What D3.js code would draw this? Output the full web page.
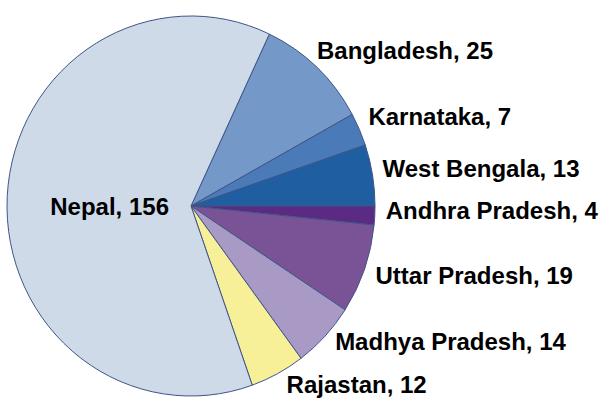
<!DOCTYPE html>
<html>
<head>
<meta charset="utf-8">
<script src="https://cdn.jsdelivr.net/npm/d3@7"></script>
<style>
  html, body { margin: 0; padding: 0; background: #fff; }
  svg { display: block; }
  text { font-family: "Liberation Sans", Arial, sans-serif; font-weight: bold; fill: #000; }
</style>
</head>
<body>
<svg id="chart" width="611" height="408"></svg>
<script>
// ---- data ----
const categories = ["Bangladesh", "Karnataka", "West Bengala", "Andhra Pradesh",
                    "Uttar Pradesh", "Madhya Pradesh", "Rajastan", "Nepal"];
const values = [25, 7, 13, 4, 19, 14, 12, 156];
const colors = ["#7499c8", "#4a7bb8", "#1f5ea0", "#5b2a82",
                "#7a5397", "#a89ac4", "#f7f098", "#cfdae8"];

// ---- layout ----
const W = 611, H = 408;
const cx = 191, cy = 206, rx = 184, ry = 190;
const startDeg = 25.2;
// label anchor nudges relative to the slice's outer edge point (layout only)
const labelNudge = [[0, -8], [9, -4], [10, 2], [11, 3], [11, 15], [10, 14], [9, 19]];

const svg = d3.select("#chart");
const pie = d3.pie().sort(null).value(d => d)
  .startAngle(startDeg * Math.PI / 180)
  .endAngle(startDeg * Math.PI / 180 + 2 * Math.PI);
const arcs = pie(values);
const arc = d3.arc().innerRadius(0).outerRadius(rx);

const g = svg.append("g")
  .attr("transform", `translate(${cx},${cy}) scale(1,${ry / rx})`);

g.selectAll("path").data(arcs).join("path")
  .attr("d", arc)
  .attr("fill", (d, i) => colors[i])
  .attr("stroke", "#3f5587")
  .attr("stroke-width", 1)
  .attr("vector-effect", "non-scaling-stroke")
  .attr("stroke-linejoin", "round");

const labels = svg.append("g").style("font-size", "24px");
arcs.forEach((d, i) => {
  const mid = (d.startAngle + d.endAngle) / 2;
  const txt = `${categories[i]}, ${values[i]}`;
  if (i === categories.length - 1) {
    // Nepal: inside label, ending left of the centre
    labels.append("text")
      .attr("x", cx - 22).attr("y", cy + 9)
      .attr("text-anchor", "end")
      .text(txt);
  } else {
    const px = cx + rx * Math.sin(mid);
    const py = cy - ry * Math.cos(mid);
    labels.append("text")
      .attr("x", px + labelNudge[i][0])
      .attr("y", py + labelNudge[i][1])
      .text(txt);
  }
});
</script>
</body>
</html>
